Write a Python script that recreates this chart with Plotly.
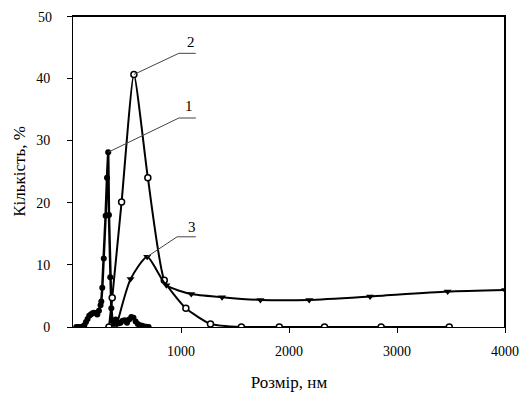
import plotly.graph_objects as go

# Curve 1 (filled circles)
x1 = [30, 45, 60, 75, 90, 105, 120, 135, 150, 165, 180, 195, 210, 225, 240, 255, 262, 271,
      285, 302, 315, 326, 333, 345, 355, 365, 380, 395, 410, 425, 440, 460, 480, 500, 520,
      540, 560, 580, 600, 620, 640, 660, 680, 700]
y1 = [0, 0, 0, 0, 0.1, 0.3, 0.8, 1.3, 1.8, 2.0, 2.2, 2.3, 2.2, 2.0, 2.6, 3.5, 4.1, 6.3,
      11, 17.9, 24, 28.1, 18, 8, 3, 1, 0.5, 1.2, 0.8, 0.6, 0.7, 1.0, 1.1, 0.7, 1.2,
      1.6, 1.5, 0.9, 0.5, 0.3, 0.2, 0.1, 0.05, 0]

# Curve 2 (open circles)
x2 = [333, 363, 450, 564, 693, 845, 1045, 1273, 1559, 1910, 2329, 2853, 3484]
y2 = [0, 4.7, 20.1, 40.6, 24.0, 7.5, 3.0, 0.5, 0, 0, 0, 0, 0]

# Curve 3 (filled down-triangles)
x3 = [407, 533, 687, 865, 1095, 1380, 1735, 2187, 2751, 3469, 4000]
y3 = [0.4, 7.7, 11.3, 6.7, 5.3, 4.8, 4.35, 4.35, 4.9, 5.7, 5.95]

x_ticks = [1000, 2000, 3000, 4000]
y_ticks = [0, 10, 20, 30, 40, 50]
y_top = y_ticks[-1]
y_ticktext = [str(v) if v != y_top else "" for v in y_ticks]

FONT = "Liberation Serif"
fig = go.Figure()

fig.add_trace(go.Scatter(x=x1, y=y1, mode="lines+markers",
                         line=dict(color="black", width=2.5),
                         marker=dict(symbol="circle", size=6, color="black")))
fig.add_trace(go.Scatter(x=x2, y=y2, mode="lines+markers",
                         line=dict(color="black", width=2, shape="spline", smoothing=0.5),
                         marker=dict(symbol="circle", size=6, color="white",
                                     line=dict(color="black", width=1.5))))
fig.add_trace(go.Scatter(x=x3, y=y3, mode="lines+markers",
                         line=dict(color="black", width=2, shape="spline", smoothing=0.6),
                         marker=dict(symbol="triangle-down", size=7, color="black")))

# leader lines and labels
labels = [("1", x1, y1, 33.6, 1072, 35.6, 980),
          ("2", x2, y2, 44.0, 1088, 45.8, 980),
          ("3", x3, y3, 14.5, 1100, 16.1, 964)]
for txt, xs, ys, ly, tx, ty, lx in labels:
    i = ys.index(max(ys))
    fig.add_shape(type="line", x0=xs[i], y0=ys[i], x1=lx, y1=ly,
                  line=dict(color="#444", width=1), layer="above")
    fig.add_shape(type="line", x0=lx, y0=ly, x1=1137, y1=ly,
                  line=dict(color="#444", width=1), layer="above")
    fig.add_annotation(x=tx, y=ty, text=txt, showarrow=False,
                       font=dict(family=FONT, size=15, color="black"))

# top tick label (kept as text so it is not dropped at the figure edge)
fig.add_annotation(xref="paper", x=0, y=y_top, text=str(y_top), showarrow=False,
                   xanchor="right", xshift=-19, yshift=-1,
                   font=dict(family=FONT, size=14, color="black"))

# thicker top and right frame
fig.add_shape(type="line", xref="paper", yref="paper", x0=0, y0=1, x1=1, y1=1,
              line=dict(color="black", width=2))
fig.add_shape(type="line", xref="paper", yref="paper", x0=1, y0=0, x1=1, y1=1,
              line=dict(color="black", width=2))

fig.update_layout(
    width=519, height=388,
    margin=dict(l=65, r=22, t=7, b=67),
    paper_bgcolor="white", plot_bgcolor="white",
    showlegend=False,
    font=dict(family=FONT, size=14, color="black"),
)
fig.update_xaxes(range=[0, 4000], tickvals=x_ticks, showgrid=False, zeroline=False,
                 showline=True, linecolor="black", linewidth=1, mirror=True,
                 ticks="outside", ticklen=5, tickcolor="black", ticklabelstandoff=6,
                 title=dict(text="Розмір, нм", font=dict(family=FONT, size=17), standoff=18),
                 tickfont=dict(family=FONT, size=14))
fig.update_yaxes(range=[0, 50], tickvals=y_ticks, ticktext=y_ticktext,
                 showgrid=False, zeroline=False,
                 showline=True, linecolor="black", linewidth=1, mirror=True,
                 ticks="outside", ticklen=5, tickcolor="black", ticklabelstandoff=14,
                 title=dict(text="Кількість, %", font=dict(family=FONT, size=17), standoff=6),
                 tickfont=dict(family=FONT, size=14))

fig.write_html("out.html")
